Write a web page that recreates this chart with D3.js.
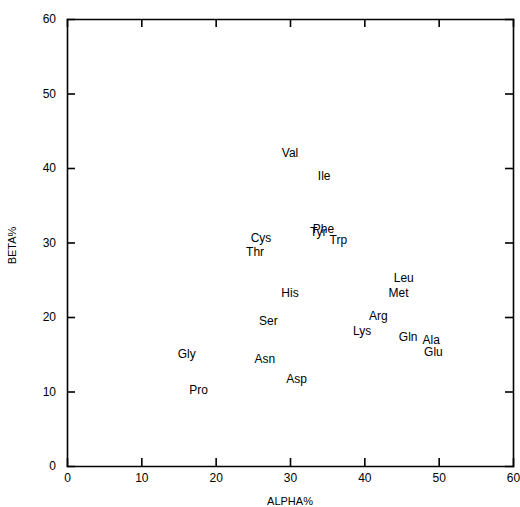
<!DOCTYPE html>
<html>
<head>
<meta charset="utf-8">
<script src="https://cdn.jsdelivr.net/npm/d3@7"></script>
<style>
  body { margin: 0; background: #fff; }
  text { font-family: "Liberation Sans", Arial, sans-serif; fill: #000; }
</style>
</head>
<body>
<svg></svg>
<script>
// amino acid labels and their alpha / beta percentages
const names = ['Val', 'Ile', 'Phe', 'Tyr', 'Trp', 'Cys', 'Thr', 'His', 'Ser', 'Gly',
               'Asn', 'Asp', 'Pro', 'Leu', 'Met', 'Arg', 'Lys', 'Gln', 'Ala', 'Glu'];
const alpha = [30.0, 34.6, 34.5, 33.8, 36.5, 26.1, 25.3, 30.0, 27.1, 16.1,
               26.6, 30.9, 17.7, 45.3, 44.6, 41.9, 39.7, 45.9, 49.0, 49.3];
const beta  = [42.1, 38.9, 31.9, 31.4, 30.4, 30.6, 28.8, 23.3, 19.5, 15.1,
               14.4, 11.7, 10.2, 25.3, 23.3, 20.1, 18.2, 17.4, 17.0, 15.3];
const xTicks = [0, 10, 20, 30, 40, 50, 60];
const yTicks = [0, 10, 20, 30, 40, 50, 60];

const margin = {t: 19, r: 7, b: 41, l: 67};
const size = {w: 520, h: 507};
const svg = d3.select('svg')
    .attr('width', size.w)
    .attr('height', size.h);

const x = d3.scaleLinear().domain([0, 60]).range([margin.l, size.w - margin.r]);
const y = d3.scaleLinear().domain([0, 60]).range([size.h - margin.b, margin.t]);

// frame with inward ticks on all four sides
const tickLen = 8;
svg.append('g')
    .attr('transform', `translate(0,${y(0)})`)
    .call(d3.axisBottom(x).tickValues(xTicks).tickSize(-tickLen).tickPadding(7))
    .call(g => g.selectAll('text').attr('font-size', 12));
svg.append('g')
    .attr('transform', `translate(0,${y(60)})`)
    .call(d3.axisTop(x).tickValues(xTicks).tickSize(-tickLen).tickFormat(''));
svg.append('g')
    .attr('transform', `translate(${x(0)},0)`)
    .call(d3.axisLeft(y).tickValues(yTicks).tickSize(-tickLen).tickPadding(11))
    .call(g => g.selectAll('text').attr('font-size', 12));
svg.append('g')
    .attr('transform', `translate(${x(60)},0)`)
    .call(d3.axisRight(y).tickValues(yTicks).tickSize(-tickLen).tickFormat(''));

svg.selectAll('.domain').attr('stroke', '#000').attr('stroke-width', 1.6);
svg.selectAll('.tick line').attr('stroke', '#000').attr('stroke-width', 1.6);
// hide end ticks that sit on the frame corners
svg.selectAll('.tick').filter(d => d === 0 || d === 60).select('line').remove();

// axis titles
svg.append('text')
    .attr('x', x(30))
    .attr('y', 505)
    .attr('text-anchor', 'middle')
    .attr('font-size', 11)
    .text('ALPHA%');
svg.append('text')
    .attr('transform', `translate(16,${y(30) + 3}) rotate(-90)`)
    .attr('text-anchor', 'middle')
    .attr('font-size', 11)
    .text('BETA%');

// point labels
const pts = names.map((n, i) => ({name: n, a: alpha[i], b: beta[i]}));
svg.append('g').classed('labels', true)
    .selectAll('text')
    .data(pts)
    .join('text')
    .attr('x', d => x(d.a))
    .attr('y', d => y(d.b))
    .attr('dy', '0.35em')
    .attr('text-anchor', 'middle')
    .attr('font-size', 12)
    .text(d => d.name);
</script>
</body>
</html>
